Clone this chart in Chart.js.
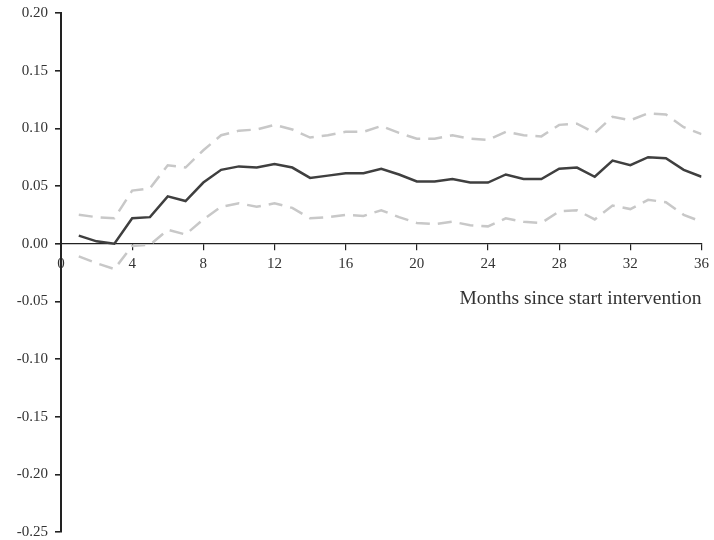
<!DOCTYPE html>
<html>
<head>
<meta charset="utf-8">
<script src="https://cdn.jsdelivr.net/npm/chart.js@4/dist/chart.umd.min.js"></script>
<style>
  html, body { margin: 0; padding: 0; background: #fff; overflow: hidden; }
  /* the y scale keeps 16px of label room above and below the plot, so the
     canvas is a little taller and nudged up to put 0.20 / -0.25 where they belong */
  #wrap { width: 714px; height: 551px; margin-top: -3px; }
</style>
</head>
<body>
<div id="wrap"><canvas id="effect"></canvas></div>
<script>
const months = [1, 2, 3, 4, 5, 6, 7, 8, 9, 10, 11, 12, 13, 14, 15, 16, 17, 18,
  19, 20, 21, 22, 23, 24, 25, 26, 27, 28, 29, 30, 31, 32, 33, 34, 35, 36]

// point estimate
const estimate = [0.007, 0.002, 0.000, 0.022, 0.023, 0.041, 0.037, 0.053, 0.064,
  0.067, 0.066, 0.069, 0.066, 0.057, 0.059, 0.061, 0.061, 0.065, 0.060, 0.054,
  0.054, 0.056, 0.053, 0.053, 0.060, 0.056, 0.056, 0.065, 0.066, 0.058, 0.072,
  0.068, 0.075, 0.074, 0.064, 0.058]

// confidence band
const upper = [0.025, 0.023, 0.022, 0.046, 0.048, 0.068, 0.066, 0.081, 0.094,
  0.098, 0.099, 0.103, 0.099, 0.092, 0.094, 0.097, 0.097, 0.102, 0.096, 0.091,
  0.091, 0.094, 0.091, 0.090, 0.097, 0.094, 0.093, 0.103, 0.104, 0.096, 0.110,
  0.107, 0.113, 0.112, 0.101, 0.095]

const lower = [-0.011, -0.017, -0.022, -0.002, -0.001, 0.012, 0.008, 0.021, 0.032,
  0.035, 0.032, 0.035, 0.031, 0.022, 0.023, 0.025, 0.024, 0.029, 0.023, 0.018,
  0.017, 0.019, 0.016, 0.015, 0.022, 0.019, 0.018, 0.028, 0.029, 0.021, 0.033,
  0.030, 0.038, 0.036, 0.025, 0.019]

const xTicks = [0, 4, 8, 12, 16, 20, 24, 28, 32, 36]
const yTicks = [-0.25, -0.2, -0.15, -0.1, -0.05, 0, 0.05, 0.1, 0.15, 0.2]

const axisColor = "#222"
const textColor = "#333"
const serif = "'Liberation Serif', 'Times New Roman', serif"

function toPoints(values) {
  return months.map((m, i) => ({ x: m, y: values[i] }))
}

const bandStyle = {
  borderColor: "#c8c8c8",
  borderWidth: 2.5,
  borderDash: [14, 8],
  pointRadius: 0,
  tension: 0,
  fill: false,
}

new Chart(document.getElementById("effect"), {
  type: "line",
  data: {
    datasets: [
      { ...bandStyle, label: "upper", data: toPoints(upper) },
      { ...bandStyle, label: "lower", data: toPoints(lower) },
      {
        label: "estimate",
        data: toPoints(estimate),
        borderColor: "#3f3f3f",
        borderWidth: 2.5,
        pointRadius: 0,
        tension: 0,
        fill: false,
      },
    ],
  },
  options: {
    responsive: true,
    maintainAspectRatio: false,
    animation: false,
    layout: { padding: { left: 0, top: 0, right: 9, bottom: 0 } },
    plugins: { legend: { display: false }, tooltip: { enabled: false } },
    scales: {
      x: {
        type: "linear",
        position: { y: 0 },
        min: 0,
        max: 36,
        afterBuildTicks: (scale) => {
          scale.ticks = xTicks.map((v) => ({ value: v }))
        },
        border: { display: true, color: axisColor, width: 1.2 },
        grid: { drawOnChartArea: false, color: axisColor, lineWidth: 1.2, tickLength: 6 },
        ticks: {
          autoSkip: false,
          maxRotation: 0,
          padding: 5,
          color: textColor,
          font: { family: serif, size: 15 },
        },
        title: {
          display: true,
          text: "Months since start intervention",
          align: "end",
          color: textColor,
          font: { family: serif, size: 19.5 },
          padding: { top: 10, bottom: 0 },
        },
      },
      y: {
        min: -0.25,
        max: 0.2,
        afterFit: (scale) => {
          scale.width = 61
        },
        afterBuildTicks: (scale) => {
          scale.ticks = yTicks.map((v) => ({ value: v }))
        },
        border: { display: true, color: axisColor, width: 2 },
        grid: { drawOnChartArea: false, color: axisColor, lineWidth: 1.6, tickLength: 6 },
        ticks: {
          padding: 7,
          color: textColor,
          font: { family: serif, size: 15 },
          callback: (v) => (Math.abs(v) < 1e-9 ? "0.00" : v.toFixed(2)),
        },
      },
    },
  },
})
</script>
</body>
</html>
